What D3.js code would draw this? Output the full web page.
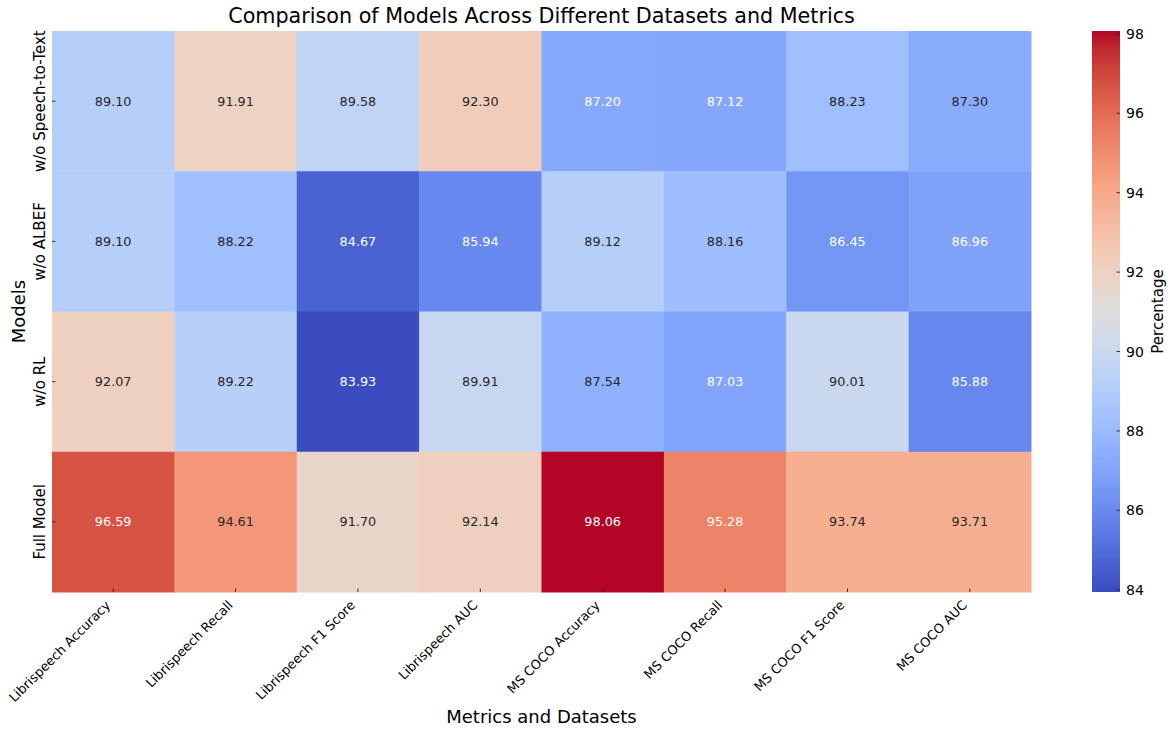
<!DOCTYPE html>
<html>
<head>
<meta charset="utf-8">
<script src="https://cdn.jsdelivr.net/npm/d3@7"></script>
<style>
  html, body { margin: 0; padding: 0; background: #fff; }
  svg { display: block; font-family: "DejaVu Sans", sans-serif; }
</style>
</head>
<body>
<svg id="chart" width="1170" height="729"></svg>
<script>
// ---------------- data ----------------
const models = ["w/o Speech-to-Text", "w/o ALBEF", "w/o RL", "Full Model"];
const metrics = [
  "Librispeech Accuracy", "Librispeech Recall", "Librispeech F1 Score", "Librispeech AUC",
  "MS COCO Accuracy", "MS COCO Recall", "MS COCO F1 Score", "MS COCO AUC"
];
const rowSpeechToText = [89.10, 91.91, 89.58, 92.30, 87.20, 87.12, 88.23, 87.30];
const rowALBEF        = [89.10, 88.22, 84.67, 85.94, 89.12, 88.16, 86.45, 86.96];
const rowRL           = [92.07, 89.22, 83.93, 89.91, 87.54, 87.03, 90.01, 85.88];
const rowFull         = [96.59, 94.61, 91.70, 92.14, 98.06, 95.28, 93.74, 93.71];
const colorbarTicks = [84, 86, 88, 90, 92, 94, 96, 98];
const titleText = "Comparison of Models Across Different Datasets and Metrics";
const xLabelText = "Metrics and Datasets";
const yLabelText = "Models";
const cbarLabelText = "Percentage";

// matplotlib "coolwarm" colormap (33 evenly spaced stops)
const coolwarmR = [0.2298057,0.26623388,0.30386891,0.342804478,0.38301334,0.424369608,0.46666708,0.509635204,0.552953156,0.596262162,0.639176211,0.681291281,0.722193294,0.761464949,0.798691636,0.833466556,0.865395197,0.897787179,0.924127593,0.944468518,0.958852946,0.96732803,0.969954137,0.966811177,0.958003065,0.943660866,0.923944917,0.89904617,0.869186849,0.834620542,0.795631745,0.752534934,0.705673158];
const coolwarmG = [0.298717966,0.353094838,0.406535296,0.458757618,0.50941904,0.558148092,0.604562568,0.648280772,0.688929332,0.726149107,0.759599947,0.788964712,0.813952739,0.834302879,0.849786142,0.860207984,0.86541021,0.848937047,0.827384882,0.800927443,0.769767752,0.734132809,0.694266682,0.650421156,0.602842431,0.551750968,0.49730856,0.439559467,0.378313092,0.312874446,0.24128379,0.157246067,0.01555616];
const coolwarmB = [0.753683153,0.801466763,0.84495867,0.883725899,0.917387822,0.945619588,0.968154911,0.98478814,0.995375608,0.999836203,0.998151185,0.990363227,0.976574709,0.956945269,0.931688648,0.901068838,0.865395561,0.820880546,0.774508472,0.726736146,0.678007945,0.628751763,0.579375448,0.530263762,0.481775914,0.434243684,0.387970225,0.343229596,0.300267182,0.259301199,0.220525627,0.184115123,0.150232812];

// ---------------- build ----------------
const values = [rowSpeechToText, rowALBEF, rowRL, rowFull];
const cells = [];
models.forEach((m, i) => metrics.forEach((k, j) => cells.push({ model: m, metric: k, value: values[i][j] })));

const vmin = d3.min(cells, d => d.value);
const vmax = d3.max(cells, d => d.value);

const stopColors = coolwarmR.map((r, i) => d3.rgb(r * 255, coolwarmG[i] * 255, coolwarmB[i] * 255));
const stopPos = stopColors.map((c, i) => i / (stopColors.length - 1));
const cmap = d3.scaleLinear().domain(stopPos).range(stopColors.map(c => c.formatHex()))
  .interpolate(d3.interpolateRgb).clamp(true);
const norm = d3.scaleLinear().domain([vmin, vmax]).range([0, 1]).clamp(true);
const colorOf = v => cmap(Math.floor(norm(v) * 255.999) / 255);

function relLum(hex) {
  const c = d3.rgb(hex);
  const f = x => { x = x / 255; return x <= 0.03928 ? x / 12.92 : Math.pow((x + 0.055) / 1.055, 2.4); };
  return 0.2126 * f(c.r) + 0.7152 * f(c.g) + 0.0722 * f(c.b);
}

const svg = d3.select("#chart");
const L = 52, R = 1031, T = 31, B = 592;
const x = d3.scaleBand().domain(metrics).range([L, R]);
const y = d3.scaleBand().domain(models).range([T, B]);

// cells
svg.append("g").selectAll("rect").data(cells).join("rect")
  .attr("x", d => x(d.metric))
  .attr("y", d => y(d.model))
  .attr("width", x.bandwidth() + 0.5)
  .attr("height", y.bandwidth() + 0.5)
  .attr("fill", d => colorOf(d.value));

// annotations
svg.append("g").selectAll("text").data(cells).join("text")
  .attr("x", d => x(d.metric) + x.bandwidth() / 2)
  .attr("y", d => y(d.model) + y.bandwidth() / 2)
  .attr("dy", "0.36em")
  .attr("text-anchor", "middle")
  .attr("font-size", 12.8)
  .attr("fill", d => relLum(colorOf(d.value)) > 0.408 ? "#262626" : "#ffffff")
  .text(d => d.value.toFixed(2));

// x axis
const xAxis = svg.append("g").attr("transform", `translate(0,${B})`)
  .call(d3.axisBottom(x).tickSize(-3.5).tickSizeOuter(0));
xAxis.select(".domain").remove();
xAxis.selectAll(".tick line").attr("stroke", "#222").attr("stroke-width", 0.9);
xAxis.selectAll(".tick text")
  .attr("x", 0).attr("y", 0).attr("dy", 0)
  .attr("transform", "translate(-2,14) rotate(-45)")
  .attr("text-anchor", "end")
  .attr("font-size", 12.9)
  .attr("fill", "#000")
  .attr("font-family", "DejaVu Sans, sans-serif");

// y axis
const yAxis = svg.append("g").attr("transform", `translate(${L},0)`)
  .call(d3.axisLeft(y).tickSize(-3.5).tickSizeOuter(0));
yAxis.select(".domain").remove();
yAxis.selectAll(".tick line").attr("stroke", "#222").attr("stroke-width", 0.9);
yAxis.selectAll(".tick text")
  .attr("x", 0).attr("y", 0).attr("dy", 0)
  .attr("transform", "translate(-7,0) rotate(-90)")
  .attr("text-anchor", "middle")
  .attr("font-size", 15)
  .attr("fill", "#000")
  .attr("font-family", "DejaVu Sans, sans-serif");

// title and axis labels
svg.append("text").attr("x", (L + R) / 2).attr("y", 23).attr("text-anchor", "middle")
  .attr("font-size", 20.7).attr("fill", "#000").text(titleText);
svg.append("text").attr("x", (L + R) / 2).attr("y", 723).attr("text-anchor", "middle")
  .attr("font-size", 18).attr("fill", "#000").text(xLabelText);
svg.append("text").attr("transform", `translate(25,${(T + B) / 2}) rotate(-90)`)
  .attr("text-anchor", "middle").attr("font-size", 18).attr("fill", "#000").text(yLabelText);

// colorbar
const CL = 1092, CR = 1120;
const defs = svg.append("defs");
const grad = defs.append("linearGradient").attr("id", "cbar")
  .attr("x1", 0).attr("y1", 1).attr("x2", 0).attr("y2", 0);
grad.selectAll("stop").data(stopColors).join("stop")
  .attr("offset", (d, i) => stopPos[i])
  .attr("stop-color", d => d.formatHex());
svg.append("rect").attr("x", CL).attr("y", T).attr("width", CR - CL).attr("height", B - T)
  .attr("fill", "url(#cbar)");

const cScale = d3.scaleLinear().domain([vmin, vmax]).range([B, T]);
const cAxis = svg.append("g").attr("transform", `translate(${CR},0)`)
  .call(d3.axisRight(cScale).tickValues(colorbarTicks).tickFormat(d3.format("d")).tickSize(-3.5).tickPadding(9).tickSizeOuter(0));
cAxis.select(".domain").remove();
cAxis.selectAll(".tick line").attr("stroke", "#222").attr("stroke-width", 0.9);
cAxis.selectAll(".tick text").attr("font-size", 14).attr("fill", "#000")
  .attr("font-family", "DejaVu Sans, sans-serif").attr("x", 6).attr("dy", "0.36em");

svg.append("text").attr("transform", `translate(1163,${(T + B) / 2}) rotate(-90)`)
  .attr("text-anchor", "middle").attr("font-size", 15).attr("fill", "#000").text(cbarLabelText);
</script>
</body>
</html>
